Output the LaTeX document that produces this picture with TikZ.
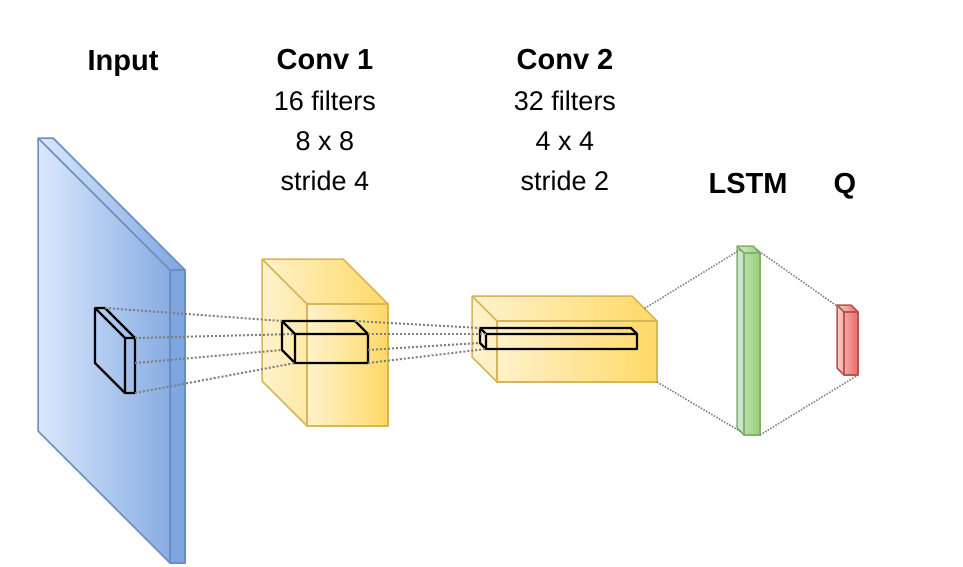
\documentclass[tikz,border=0pt]{standalone}
\usepackage{fontspec}
\setmainfont{Liberation Sans}
\usetikzlibrary{positioning}

\definecolor{inlight}{HTML}{DAE8FC}
\definecolor{indark}{HTML}{7EA6E0}
\definecolor{inedge}{HTML}{6C8EBF}
\definecolor{convlight}{HTML}{FFF2CC}
\definecolor{convdark}{HTML}{FFD966}
\definecolor{convedge}{HTML}{D6B656}
\definecolor{lstmlight}{HTML}{D5E8D4}
\definecolor{lstmdark}{HTML}{97D077}
\definecolor{lstmedge}{HTML}{82B366}
\definecolor{qlight}{HTML}{F8CECC}
\definecolor{qdark}{HTML}{EA6B66}
\definecolor{qedge}{HTML}{B85450}
\definecolor{linkgray}{HTML}{7F7F7F}

% box seen from the front-right: style, x1, y1, x2, y2 (front face), depth, name
\newcommand\cuboid[7]{%
  \coordinate (#7-btl) at ({#2-#6},{#3-#6});
  \coordinate (#7-btr) at ({#4-#6},{#3-#6});
  \coordinate (#7-bbl) at ({#2-#6},{#5-#6});
  \coordinate (#7-ftl) at (#2,#3);
  \coordinate (#7-ftr) at (#4,#3);
  \coordinate (#7-fbl) at (#2,#5);
  \coordinate (#7-fbr) at (#4,#5);
  \coordinate (#7-rm) at ({#4},{#5-#6});
  \coordinate (#7-tl) at ({#2-#6/2},{#3-#6/2});
  \coordinate (#7-tr) at ({#4-#6/2},{#3-#6/2});
  \coordinate (#7-bl) at ({#2-#6/2},{#5-#6/2});
  \path[#1 face] (#7-btl) -- (#7-btr) -- (#7-ftr) -- (#7-fbr) -- (#7-fbl) -- (#7-bbl) -- cycle;
  \path[#1 front] (#7-ftl) rectangle (#7-fbr);
  \path[#1 edge] (#7-btl) -- (#7-ftl) -- (#7-ftr) (#7-ftl) -- (#7-fbl);
}

\begin{document}
\begin{tikzpicture}[x=1pt,y=-1pt,thick,line join=round,
    label/.style={font=\bfseries\fontsize{29}{35}\selectfont,anchor=base},
    note/.style={font=\fontsize{27}{40}\selectfont,align=center,anchor=base},
    link/.style={draw=linkgray,line width=2pt,dash pattern=on 2pt off 2pt},
    thin link/.style={draw=linkgray,line width=1.5pt,dash pattern=on 1.5pt off 1.5pt},
    input face/.style={left color=inlight,right color=indark,draw=inedge,line width=1.5pt},
    input front/.style={fill=indark,draw=inedge,line width=1.5pt},
    input edge/.style={draw=inedge,line width=1.5pt},
    conv face/.style={left color=convlight,right color=convdark,draw=convedge,line width=1.5pt},
    conv front/.style={left color=convlight,right color=convdark,draw=convedge,line width=1.5pt},
    conv edge/.style={draw=convedge,line width=1.5pt},
    lstm face/.style={left color=lstmlight,right color=lstmdark,draw=lstmedge,line width=1.5pt},
    lstm front/.style={left color=lstmlight!60!lstmdark,right color=lstmdark,draw=lstmedge,line width=1.5pt},
    lstm edge/.style={draw=lstmedge,line width=1.5pt},
    q face/.style={left color=qlight,right color=qdark,draw=qedge,line width=1.5pt},
    q front/.style={left color=qlight!60!qdark,right color=qdark,draw=qedge,line width=1.5pt},
    q edge/.style={draw=qedge,line width=1.5pt},
    kernel face/.style={draw=black,line width=2.2pt},
    kernel front/.style={draw=black,line width=2.2pt},
    kernel edge/.style={draw=black,line width=2.2pt}]
    \useasboundingbox (0,0) rectangle (963,567);

    % layers
    \cuboid{input}{170}{270}{185}{563}{132}{input}
    \cuboid{kernel}{125}{338}{135}{393}{30}{ik}
    \cuboid{conv}{307}{304}{388}{426}{45}{conv1}
    \cuboid{kernel}{295}{334}{368}{363}{13}{ck1}
    \cuboid{conv}{497}{321}{657}{382}{25}{conv2}
    \cuboid{kernel}{486}{334}{637}{349}{6}{ck2}
    \cuboid{lstm}{744}{253}{760}{435}{7}{lstm}
    \cuboid{q}{844}{312}{858}{375}{7}{q}

    % receptive fields
    \draw[link] (ik-btr) -- (ck1-btl);
    \draw[link] (ik-ftr) -- (ck1-ftl);
    \draw[link] (ik-rm) -- (ck1-bbl);
    \draw[link] (ik-fbr) -- (ck1-fbl);
    \draw[link] (ck1-btr) -- (ck2-btl);
    \draw[link] (ck1-ftr) -- (ck2-ftl);
    \draw[link] (ck1-rm) -- (ck2-bbl);
    \draw[link] (ck1-fbr) -- (ck2-fbl);
    \draw[thin link] (conv2-tr) -- (lstm-tl);
    \draw[thin link] (conv2-fbr) -- (lstm-bl);
    \draw[thin link] (lstm-tr) -- (q-tl);
    \draw[thin link] (lstm-fbr) -- (q-fbr);

    % labels (note base = last line)
    \node[label] (inputlabel) at (123,71) {Input};
    \node[label] (conv1label) at (325,70) {Conv 1};
    \node[note] (conv1note) at (325,190) {16 filters\\8 x 8\\stride 4};
    \node[label] (conv2label) at (565,70) {Conv 2};
    \node[note] (conv2note) at (565,190) {32 filters\\4 x 4\\stride 2};
    \node[label] (lstmlabel) at (748,193) {LSTM};
    \node[label] (qlabel) at (845,193) {Q};
\end{tikzpicture}
\end{document}
